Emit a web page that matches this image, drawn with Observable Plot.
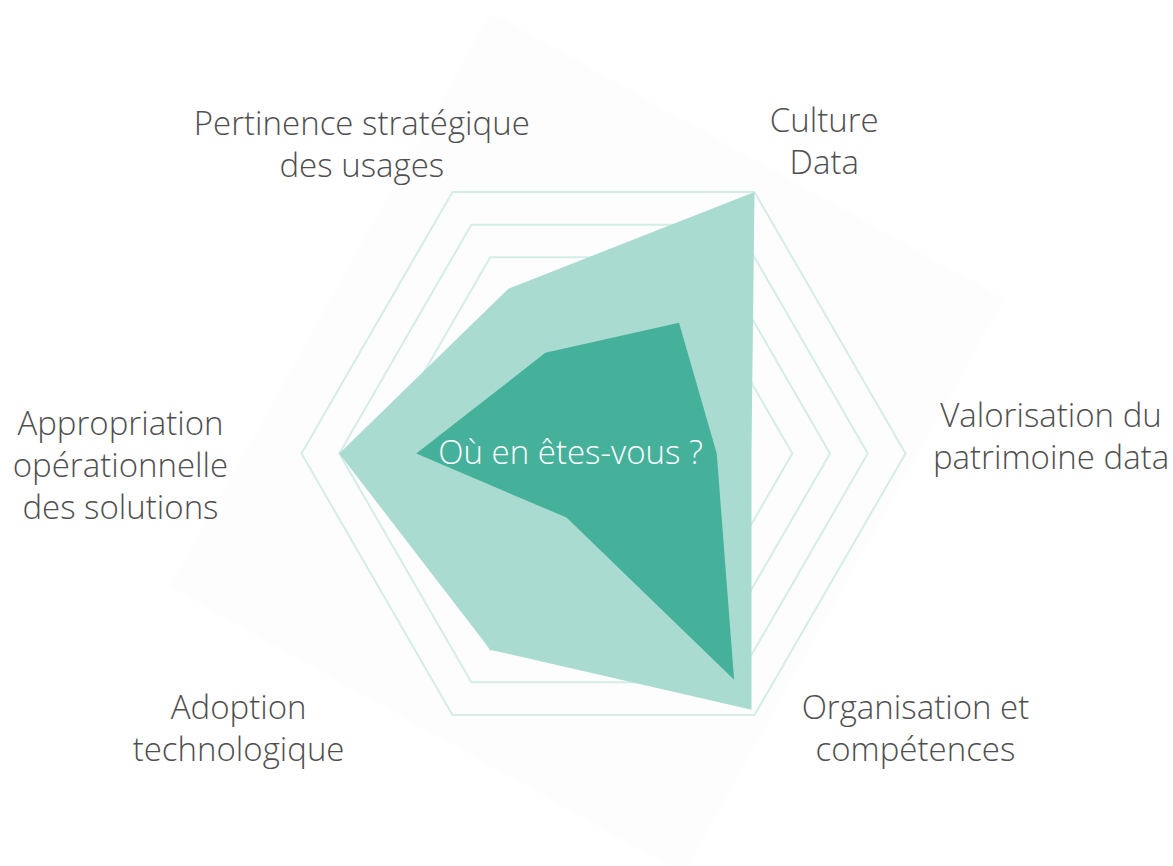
<!DOCTYPE html>
<html><head><meta charset="utf-8">
<script src="https://cdn.jsdelivr.net/npm/d3@7"></script>
<script src="https://cdn.jsdelivr.net/npm/@observablehq/plot@0.6"></script>
<style>html,body{margin:0;padding:0;background:#fff;overflow:hidden}</style>
</head><body><div id="chart"></div>
<script>
// ---- data ----
const axes = [
  "Culture\nData",
  "Valorisation du\npatrimoine data",
  "Organisation et\ncompétences",
  "Adoption\ntechnologique",
  "Appropriation\nopérationnelle\ndes solutions",
  "Pertinence stratégique\ndes usages"
];
const objectif = [1.0, 0.49, 0.98, 0.75, 0.875, 0.63];     // light area
const actuel   = [0.5, 0.375, 0.865, 0.245, 0.62, 0.385];  // dark area
const ringLevels = [0.625, 0.75, 0.875, 1];
const centerTitle = "Où en êtes-vous ?";

// ---- layout ----
const W = 1173, H = 866, CX = 603, CY = 453, R = 302;
const angleOf = i => 60 - 60 * i;               // degrees, axis 0 at 60°
const pol = (r, deg) => [r * Math.cos(deg * Math.PI / 180), r * Math.sin(deg * Math.PI / 180)];
// label placement (radius, angle) in radar units
const labelPlace = [[1.265, 54.7], [1.483, 2.2], [1.377, -41.4], [1.513, -143], [1.6, 181.4], [1.30, 128]];
// faint rotated backdrop
const backdrop = {cx: -0.0545, cy: 0.0345, r: 1.463, angles: [102.6, 19.05, -77.4, -160.95]};

const rings = ringLevels.flatMap(l => axes.map((a, i) => {
  const [x, y] = pol(l, angleOf(i)); return {level: l, x, y};
}));
const area = (vals, name) => vals.map((v, i) => {
  const [x, y] = pol(v, angleOf(i)); return {serie: name, x, y};
});
const back = backdrop.angles.map(a => {
  const [x, y] = pol(backdrop.r, a); return {x: x + backdrop.cx, y: y + backdrop.cy};
});
const labels = axes.map((t, i) => {
  const [x, y] = pol(labelPlace[i][0], labelPlace[i][1]); return {text: t, x, y};
});

const font = "'Open Sans', 'Segoe UI', sans-serif";
const chart = Plot.plot({
  width: W, height: H,
  marginTop: 0, marginRight: 0, marginBottom: 0, marginLeft: 0,
  x: {domain: [-CX / R, (W - CX) / R], axis: null},
  y: {domain: [-(H - CY) / R, CY / R], axis: null},
  style: {background: "#fff"},
  marks: [
    Plot.line(back, {x: "x", y: "y", fill: "#fdfdfd", stroke: "none", curve: "linear-closed"}),
    Plot.line(rings, {x: "x", y: "y", z: "level", stroke: "#d4eee7", strokeWidth: 2, fill: "none", curve: "linear-closed"}),
    Plot.line(area(objectif, "Objectif"), {x: "x", y: "y", fill: "#aadbd0", stroke: "none", curve: "linear-closed"}),
    Plot.line(area(actuel, "Actuel"), {x: "x", y: "y", fill: "#46b19a", stroke: "none", curve: "linear-closed"}),
    Plot.text([centerTitle], {x: () => -0.109, y: () => 0, text: d => d, fill: "#fff", fontSize: 33, fontFamily: font, fontWeight: 300}),
    Plot.text(labels, {x: "x", y: "y", dy: -2, text: "text", fill: "#4f4f4f", fontSize: 33, fontFamily: font, fontWeight: 300, lineHeight: 1.27})
  ]
});
document.getElementById("chart").appendChild(chart);
</script>
</body></html>
